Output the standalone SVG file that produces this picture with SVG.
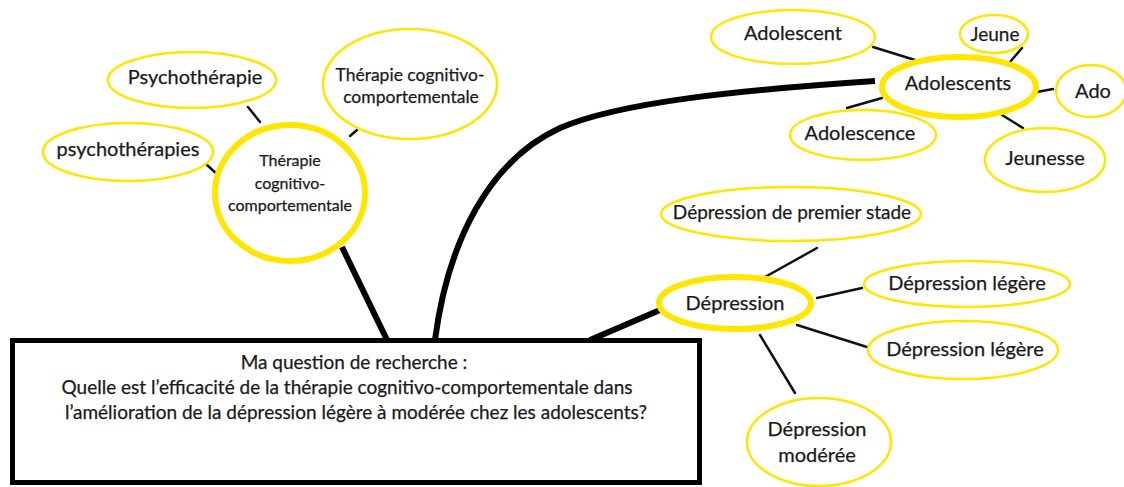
<svg xmlns="http://www.w3.org/2000/svg" width="1124" height="487" viewBox="0 0 1124 487">
<style>
.n{fill:#fff;stroke:#FFE600;stroke-width:2.5}
.m{fill:#fff;stroke:#FFE600;stroke-width:6}
.t{font-family:Lato,"Liberation Sans",sans-serif;fill:#1a1a1a;stroke:#1a1a1a;stroke-width:0.25;text-anchor:middle;font-size:20px}
.c{stroke:#111;stroke-width:2.5;fill:none;stroke-linecap:round}
.k{stroke:#000;stroke-width:6;fill:none;stroke-linecap:butt}
</style>
<rect width="1124" height="487" fill="#fff"/>
<g id="connectors">
<path class="k" d="M342 247 L387 340"/>
<path class="k" d="M435 340 C448 240 490 160 560 128 C620 102 740 90 875 81"/>
<path class="k" d="M590 340 L660 310"/>
<path class="c" d="M248 107 L260 122"/>
<path class="c" d="M207 165 L218 175"/>
<path class="c" d="M350 136 L357 130"/>
<path class="c" d="M873 47 L915 60"/>
<path class="c" d="M1022 48 L1010 62"/>
<path class="c" d="M1037 92 L1053 89"/>
<path class="c" d="M847 108 L882 98"/>
<path class="c" d="M1002 115 L1023 128"/>
<path class="c" d="M817 248 L765 277"/>
<path class="c" d="M862 288 L817 298"/>
<path class="c" d="M867 347 L797 325"/>
<path class="c" d="M795 393 L760 335"/>
</g>
<g id="question">
<rect x="12.5" y="340.5" width="687" height="142" fill="#fff" stroke="#000" stroke-width="5"/>
<text class="t" style="font-size:19px" x="354" y="369">Ma question de recherche :</text>
<text class="t" style="font-size:19px" x="347" y="394">Quelle est l’efficacité de la thérapie cognitivo-comportementale dans</text>
<text class="t" style="font-size:19px" x="356" y="419">l’amélioration de la dépression légère à modérée chez les adolescents?</text>
</g>
<g id="tcc">
<ellipse class="m" cx="290" cy="193" rx="75" ry="68"/>
<text class="t" style="font-size:16px" x="290" y="166">Thérapie</text>
<text class="t" style="font-size:16px" x="290" y="189">cognitivo-</text>
<text class="t" style="font-size:16px" x="290" y="211">comportementale</text>
</g>
<g id="psychotherapie">
<ellipse class="n" cx="192" cy="80" rx="84" ry="28"/>
<text class="t" x="195" y="84">Psychothérapie</text>
</g>
<g id="psychotherapies">
<ellipse class="n" cx="128" cy="152" rx="85" ry="29"/>
<text class="t" x="128" y="156">psychothérapies</text>
</g>
<g id="tcc2">
<ellipse class="n" cx="410" cy="84" rx="87" ry="55"/>
<text class="t" style="font-size:17.5px" x="410" y="81">Thérapie cognitivo-</text>
<text class="t" style="font-size:17.5px" x="411" y="103">comportementale</text>
</g>
<g id="adolescents">
<ellipse class="m" cx="959" cy="87" rx="77" ry="30"/>
<text class="t" x="958" y="90">Adolescents</text>
</g>
<g id="adolescent">
<ellipse class="n" cx="793" cy="37" rx="82" ry="27"/>
<text class="t" x="793" y="40">Adolescent</text>
</g>
<g id="jeune">
<ellipse class="n" cx="994" cy="34" rx="34" ry="19"/>
<text class="t" style="font-size:19px" x="995" y="41">Jeune</text>
</g>
<g id="ado">
<ellipse class="n" cx="1091" cy="91" rx="35" ry="26"/>
<text class="t" x="1093" y="98">Ado</text>
</g>
<g id="adolescence">
<ellipse class="n" cx="863" cy="135" rx="73" ry="25"/>
<text class="t" x="860" y="140">Adolescence</text>
</g>
<g id="jeunesse">
<ellipse class="n" cx="1045" cy="160" rx="60" ry="32"/>
<text class="t" x="1045" y="165">Jeunesse</text>
</g>
<g id="depression">
<ellipse class="m" cx="735" cy="303" rx="76" ry="26"/>
<text class="t" x="735" y="310">Dépression</text>
</g>
<g id="premier">
<ellipse class="n" cx="791" cy="214" rx="130" ry="27"/>
<text class="t" style="font-size:19px" x="792" y="219">Dépression de premier stade</text>
</g>
<g id="legere1">
<ellipse class="n" cx="967" cy="284" rx="103" ry="23"/>
<text class="t" x="967" y="290">Dépression légère</text>
</g>
<g id="legere2">
<ellipse class="n" cx="963" cy="350" rx="95" ry="29"/>
<text class="t" x="965" y="356">Dépression légère</text>
</g>
<g id="moderee">
<ellipse class="n" cx="819" cy="442" rx="72" ry="44"/>
<text class="t" x="817" y="436">Dépression</text>
<text class="t" x="817" y="462">modérée</text>
</g>
</svg>
